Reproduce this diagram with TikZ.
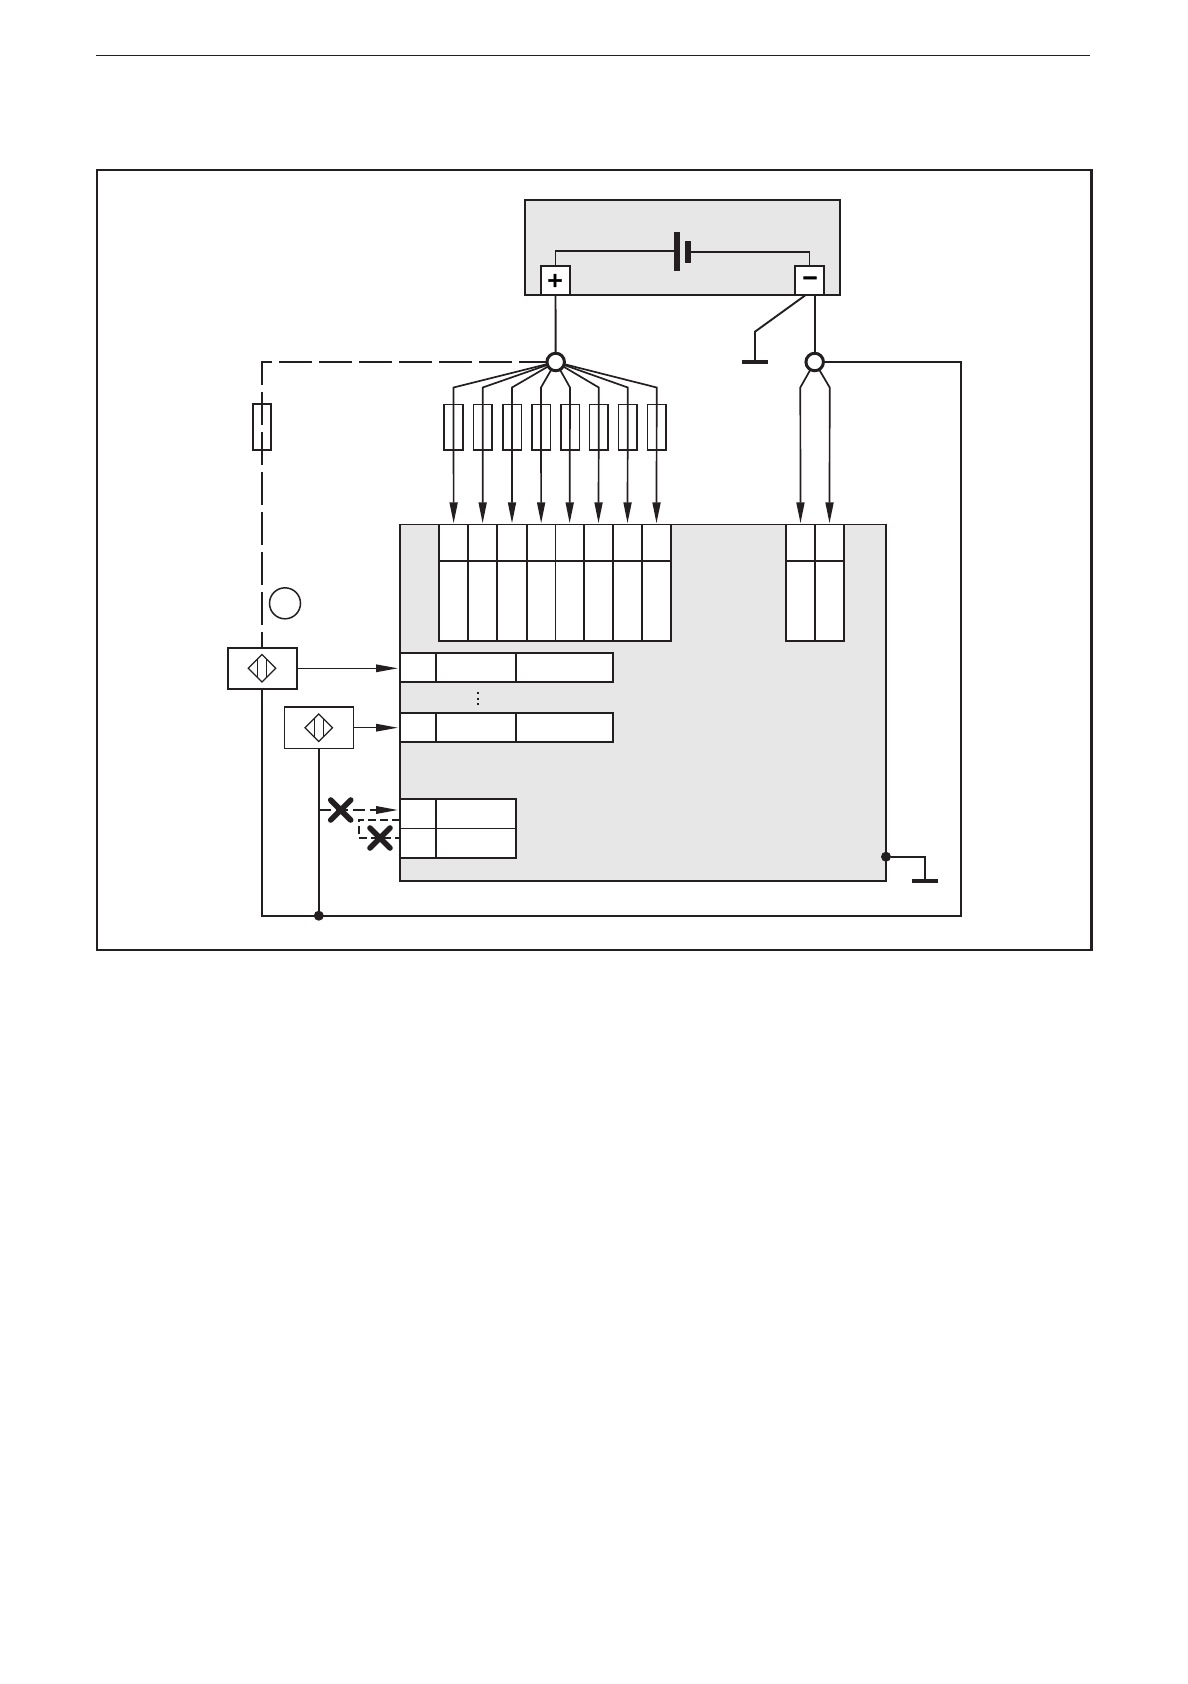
\documentclass[tikz,border=0pt]{standalone}
\usepackage{fontspec}
\newfontfamily\signfont[FakeBold=3]{DejaVu Sans Bold}
\usetikzlibrary{arrows.meta,fit,shapes.misc,shapes.geometric}
\definecolor{ink}{HTML}{231F20}
\definecolor{panel}{HTML}{E7E7E7}
\tikzset{
  x=1pt,y=-1pt,
  wire/.style={draw=ink,line width=1.9pt,line join=miter},
  thinwire/.style={draw=ink,line width=1.2pt},
  arrowA/.style={-{Triangle[length=21pt,width=8pt]},shorten >=1pt},
  arrowB/.style={-{Triangle[length=22pt,width=7.5pt]},shorten >=2pt},
  longdash/.style={dash pattern=on 33pt off 7pt,dash phase=17pt},
  shortdash/.style={dash pattern=on 12pt off 5pt},
  tinydash/.style={dash pattern=on 8pt off 4pt},
  boxbase/.style={rectangle,inner sep=0pt,outer sep=0pt,draw=ink,line width=2pt},
  panelbox/.style={boxbase,fill=panel,line width=1.9pt},
  cellbox/.style={boxbase,fill=white},
  softcell/.style={boxbase,fill=white,line width=1pt},
  terminal/.style={boxbase,fill=white,minimum width=29.6pt,minimum height=29pt},
  fusebox/.style={boxbase,line width=1.6pt,minimum width=18.6pt,minimum height=45.7pt},
  sensor/.style={boxbase,fill=white,minimum width=69pt,minimum height=41.5pt},
  ring/.style={circle,inner sep=0pt,outer sep=0pt,minimum size=17.5pt,draw=ink,fill=white,line width=3pt},
  blob/.style={circle,inner sep=0pt,outer sep=0pt,minimum size=10pt,fill=ink},
  solidbar/.style={rectangle,inner sep=0pt,outer sep=0pt,fill=ink},
  xmark/.style={cross out,draw=ink,line width=5.6pt,line cap=round,inner sep=0pt,outer sep=0pt,minimum size=20pt},
  diamondmark/.style={diamond,aspect=1,draw=ink,line width=1.2pt,inner sep=0pt,outer sep=0pt,minimum size=27.5pt},
}
\begin{document}
\begin{tikzpicture}
\path[use as bounding box,fill=white] (0,0) rectangle (1187,1684);
% page rule and outer frame
\draw[draw=ink,line width=.9pt] (96,55.5) -- (1090,55.5);
\node[boxbase,line width=2.2pt,fit={(97,170)(1091.5,950)}] (frame) {};
\draw[draw=ink,line width=3pt] (frame.north east) -- (frame.south east);

% battery unit
\node[panelbox,fit={(524.7,200)(840.3,294.7)}] (batt) {};
\node[terminal] (plusT) at (555.5,280.2) {};
\node[terminal] (minusT) at (809.5,280.2) {};
\node[inner sep=0pt] at (555,280.5) {\fontsize{20}{20}\signfont +};
\node[inner sep=0pt] at (810,280.5) {\fontsize{20}{20}\signfont −};
\node[solidbar,minimum width=6pt,minimum height=39pt] (plateL) at (677,251.2) {};
\node[solidbar,minimum width=6pt,minimum height=22pt] (plateS) at (688,251.9) {};
\draw[wire] (plusT.north) |- (plateL.west);
\draw[wire] (minusT.north) |- (plateS.east);

% junction rings
\node[ring] (jp) at (555.7,362) {};
\node[ring] (jm) at (814.7,362) {};
\draw[wire] (plusT.south) -- (jp);
\coordinate (mOut) at (814.7,294.7);
\draw[wire] (mOut) -- (jm);

% ground at supply
\coordinate (gTap) at (805,295.5);
\coordinate (gKnee) at (755,331.7);
\node[solidbar,minimum width=26pt,minimum height=4pt] (gndA) at (755,362) {};
\draw[wire] (gTap) -- (gKnee) -- (gndA.north);

% main unit
\node[panelbox,line width=1.6pt,fit={(400,524.3)(886,880.7)}] (main) {};

% top cell columns
\foreach \i/\l/\r in {1/439/468.3,2/468.3/497,3/497/527,4/527/555.3,5/555.3/584,6/584/613,7/613/642,8/642/671,9/786/815,10/815/844}{
  \node[softcell,fit={(\l,524.3)(\r,560.6)}] (t\i) {};
  \node[softcell,fit={(\l,560.6)(\r,640.7)}] (b\i) {};
}
\foreach \i in {1,2,3,4,6,7,8,9,10}{
  \draw[wire,line width=2pt] (t\i.north west) -- (b\i.south west);
}
\draw[wire,line width=2pt] (t8.north east) -- (b8.south east);
\draw[wire,line width=2pt] (t10.north east) -- (b10.south east);
\draw[wire,line width=2pt] (t1.south west) -- (t8.south east);
\draw[wire,line width=2pt] (t9.south west) -- (t10.south east);
\draw[wire,line width=2pt,line cap=rect] (b1.south west) -- (b8.south east);
\draw[wire,line width=2pt,line cap=rect] (b9.south west) -- (b10.south east);
\draw[wire,line width=1.5pt] (t1.north west) -- (t8.north east);
\draw[wire,line width=1.5pt] (t9.north west) -- (t10.north east);

% input rows
\node[cellbox,fit={(400,653)(436,682)}] (r1a) {};
\node[cellbox,fit={(436,653)(516,682)}] (r1b) {};
\node[cellbox,fit={(516,653)(613,682)}] (r1c) {};
\node[cellbox,fit={(400,713)(436,742)}] (r2a) {};
\node[cellbox,fit={(436,713)(516,742)}] (r2b) {};
\node[cellbox,fit={(516,713)(613,742)}] (r2c) {};
\node[cellbox,fit={(400,799.3)(436,858)}] (r3a) {};
\node[cellbox,fit={(436,799.3)(516,858)}] (r3b) {};
\coordinate (r3L) at (400,828.4);
\coordinate (r3R) at (516,828.4);
\draw[thinwire] (r3L) -- (r3R);
\draw[draw=ink,line width=1.8pt,dash pattern=on 2.4pt off 3.1pt] (478,692) -- (478,705.5);

% fuses and fan-out
\foreach \i/\x in {1/453.5,2/482.7,3/512,4/541,5/570,6/598.8,7/627.8,8/656.7}{
  \node[fusebox] (f\i) at (\x,427.2) {};
  \coordinate (k\i) at (\x,387.5);
  \draw[wire,line width=1.7pt,arrowA] (jp) -- (k\i) -- (t\i.north);
}
\coordinate (k9) at (800.3,387.5);
\coordinate (k10) at (829.7,387.5);
\draw[wire,line width=1.7pt,arrowA] (jm) -- (k9) -- (t9.north);
\draw[wire,line width=1.7pt,arrowA] (jm) -- (k10) -- (t10.north);

% sensors
\node[sensor] (s1) at (262,668.3) {};
\node[diamondmark] (d1) at (s1.center) {};
\node[sensor,line width=1.3pt] (s2) at (318.8,727.7) {};
\node[diamondmark] (d2) at (s2.center) {};
\foreach \d in {d1,d2}{
  \draw[thinwire] (\d.center) ++(-4.7,-9) -- ++(0,18);
  \draw[thinwire] (\d.center) ++(4.7,-9) -- ++(0,18);
}
\draw[wire,line width=1.5pt,arrowB] (s1.east) -- (r1a.west |- s1.east);
\draw[wire,line width=1.5pt,arrowB] (s2.east) -- (r2a.west |- s2.east);

% fuse on dashed feed and dashed feed
\node[fusebox,line width=1.9pt] (f0) at (262,427.2) {};
\coordinate (dKnee) at (262,362);
\draw[wire,longdash] (s1.north) -- (dKnee) -- (jp);
\node[circle,draw=ink,line width=1.5pt,inner sep=0pt,minimum size=31pt] (note) at (285,603.3) {};

% return rail
\node[blob] (rail) at (318.8,915.7) {};
\coordinate (railR) at (961,915.7);
\coordinate (railL) at (262,915.7);
\draw[wire] (jm) -- (railR |- jm) -- (railR) -- (railL) -- (s1.south);
\draw[wire] (s2.south) -- (rail);

% crossed inputs
\coordinate (cTap) at (318.8,810);
\coordinate (c1) at (358.7,819.7);
\coordinate (c2) at (358.7,837.7);
\coordinate (in1) at (400,810);
\coordinate (in2) at (400,819.7);
\coordinate (in3) at (400,837.7);
\draw[wire,shortdash,arrowB] (cTap) -- (in1);
\draw[wire,line width=1.7pt,tinydash] (in2) -- (c1) -- (c2) -- (in3);
\node[xmark] (x1) at (340.7,810) {};
\node[xmark] (x2) at (380,838) {};

% chassis ground
\node[blob] (cdot) at (886,856.7) {};
\node[solidbar,minimum width=26pt,minimum height=4pt] (gndB) at (925,881) {};
\draw[wire] (cdot) -| (gndB.north);
\end{tikzpicture}
\end{document}
